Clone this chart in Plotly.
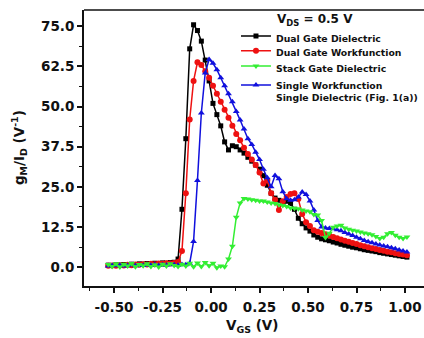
import plotly.graph_objects as go

# Gate-voltage sweep points (V)
vgs = [-0.53, -0.51, -0.49, -0.47, -0.45, -0.43, -0.41, -0.39, -0.37, -0.35,
       -0.33, -0.31, -0.29, -0.27, -0.25, -0.23, -0.21, -0.19, -0.17, -0.15,
       -0.13, -0.11, -0.09, -0.07, -0.05, -0.03, -0.01, 0.01, 0.03, 0.05,
       0.07, 0.09, 0.11, 0.13, 0.15, 0.17, 0.19, 0.21, 0.23, 0.25,
       0.27, 0.29, 0.31, 0.33, 0.35, 0.37, 0.39, 0.41, 0.43, 0.45,
       0.47, 0.49, 0.51, 0.53, 0.55, 0.57, 0.59, 0.61, 0.63, 0.65,
       0.67, 0.69, 0.71, 0.73, 0.75, 0.77, 0.79, 0.81, 0.83, 0.85,
       0.87, 0.89, 0.91, 0.93, 0.95, 0.97, 0.99, 1.01]

# gm/Id (1/V) for each device variant
dual_gate_dielectric = [
    0.6, 0.5, 0.7, 0.6, 0.8, 0.7, 0.9, 0.8, 1.0, 0.9,
    1.1, 1.0, 1.2, 1.1, 1.3, 1.2, 1.4, 1.5, 2.5, 18.0,
    40.0, 68.0, 75.5, 73.7, 70.4, 64.5, 58.0, 51.0, 47.5, 44.0,
    39.0, 36.5, 37.8, 37.5, 36.5, 35.5, 34.2, 33.0, 31.8, 30.5,
    28.5, 25.5, 23.0, 21.5, 20.8, 20.2, 20.5, 19.8, 18.0, 15.2,
    13.5, 12.2, 11.2, 10.0, 9.3, 8.8, 8.5, 8.2, 7.8, 7.5,
    7.1, 6.8, 6.5, 6.2, 6.0, 5.7, 5.4, 5.2, 5.0, 4.8,
    4.5, 4.3, 4.1, 3.9, 3.7, 3.5, 3.3, 3.1]

dual_gate_workfunction = [
    0.4, 0.5, 0.4, 0.6, 0.5, 0.7, 0.6, 0.8, 0.7, 0.9,
    0.8, 1.0, 0.9, 1.1, 1.0, 1.2, 1.1, 1.3, 1.6, 5.0,
    23.0, 46.0, 58.0, 63.8, 63.0, 61.0, 59.0, 56.5, 54.0, 51.5,
    49.0, 46.5, 44.0, 41.5, 39.5, 37.2, 35.2, 33.5, 31.8, 29.5,
    26.0, 27.0, 23.0, 21.0, 17.8, 20.5, 21.8, 22.8, 23.0, 21.2,
    16.5, 14.0, 12.8, 11.5, 11.0, 10.6, 10.2, 9.8, 9.4, 9.0,
    8.6, 8.2, 7.9, 7.5, 7.2, 6.8, 6.5, 6.2, 5.9, 5.6,
    5.3, 5.1, 4.8, 4.6, 4.3, 4.1, 3.9, 3.7]

stack_gate_dielectric = [
    0.8, 0.2, 1.0, 0.0, 0.9, 0.3, 1.1, 0.1, 0.8, 0.4,
    1.0, 0.2, 0.7, 0.0, 0.9, 0.3, 1.0, 0.5, 0.2, 0.9,
    0.3, 1.2, 0.1, 1.3, 0.2, 1.4, 0.4, 1.2, -0.2, 0.3,
    0.1, 2.5, 6.5, 15.5, 20.0, 21.4, 21.2, 21.0, 20.8, 20.6,
    20.6, 20.3, 20.0, 19.8, 19.4, 19.2, 18.9, 18.4, 18.3, 18.2,
    17.8, 17.5, 17.2, 16.4, 16.2, 14.5, 9.2, 10.5, 12.4, 12.8,
    13.0, 12.2, 11.8, 11.5, 11.2, 10.9, 10.6, 10.4, 10.1, 9.5,
    8.9, 9.3, 10.4, 10.8, 9.9, 9.3, 8.9, 9.4]

single_wf_single_diel = [
    0.3, 0.5, 0.4, 0.6, 0.3, 0.5, 0.7, 0.4, 0.6, 0.5,
    0.7, 0.6, 0.8, 0.5, 0.7, 0.6, 0.8, 0.7, 0.6, 0.8,
    0.7, 1.2, 8.0, 27.0, 48.0, 60.5, 64.7, 63.5, 61.5, 59.0,
    56.5, 54.0, 51.5, 48.5, 45.8, 43.0, 40.0, 38.2, 35.8, 33.5,
    30.5, 27.8, 25.0, 28.5, 27.5, 23.5, 21.3, 20.8, 21.0, 21.8,
    23.4, 22.6, 20.6, 17.8, 14.5, 12.5, 12.2, 12.0, 11.9, 11.6,
    11.3, 10.8, 10.3, 9.8, 9.3, 8.8, 8.3, 7.9, 7.6, 7.2,
    6.9, 6.6, 6.3, 6.0, 5.7, 5.3, 5.0, 4.7]

x_ticks = [-0.50, -0.25, 0.00, 0.25, 0.50, 0.75, 1.00]
x_tick_text = ["-0.50", "-0.25", "0.00", "0.25", "0.50", "0.75", "1.00"]
y_ticks = [0.0, 12.5, 25.0, 37.5, 50.0, 62.5, 75.0]
y_tick_text = ["0.0", "12.5", "25.0", "37.5", "50.0", "62.5", "75.0"]

FONT = "DejaVu Sans"
INK = "#111111"

# (name, values, colour, marker symbol, marker size, legend id, legend centre y in paper units)
# drawn in list order; each curve gets its own one-entry legend so the rows sit tightly
series = [
    ("Dual Gate Dielectric", dual_gate_dielectric, "#000000", "square", 5,
     "legend", 0.899),
    ("Dual Gate Workfunction", dual_gate_workfunction, "#ee1111", "circle", 6,
     "legend2", 0.845),
    ("Single Workfunction<br>Single Dielectric (Fig. 1(a))", single_wf_single_diel,
     "#1010dd", "triangle-up", 6, "legend4", 0.705),
    ("Stack Gate Dielectric", stack_gate_dielectric, "#33ee33", "triangle-down", 6,
     "legend3", 0.790),
]

fig = go.Figure()
for name, vals, color, sym, size, leg, _ in series:
    fig.add_trace(go.Scatter(
        x=vgs, y=vals, name=name, mode="lines+markers",
        line=dict(color=color, width=1.5),
        marker=dict(symbol=sym, size=size, color=color, line=dict(width=0)),
        legend=leg,
    ))

tick_font = dict(family=FONT, size=13.5, color=INK, weight="bold")

fig.update_xaxes(
    range=[-0.655, 1.098], tickmode="array", tickvals=x_ticks, ticktext=x_tick_text,
    tickangle=0, automargin=False, ticklabelstandoff=3,
    showline=True, linecolor=INK, linewidth=1.8,
    showgrid=False, zeroline=False,
    ticks="outside", ticklen=5, tickwidth=1.5, tickcolor=INK,
    tickfont=tick_font,
    minor=dict(dtick=0.125, ticks="outside", ticklen=3, tickwidth=1.2, tickcolor=INK),
)
fig.update_yaxes(
    range=[-5.9, 80.1], tickmode="array", tickvals=y_ticks, ticktext=y_tick_text,
    automargin=False,
    showline=True, linecolor=INK, linewidth=1.8,
    showgrid=False, zeroline=False,
    ticks="outside", ticklen=5, tickwidth=1.5, tickcolor=INK,
    tickfont=tick_font,
    minor=dict(dtick=6.25, ticks="outside", ticklen=3, tickwidth=1.2, tickcolor=INK),
)

title_font = dict(family=FONT, size=13.5, color=INK, weight="bold")
legend_font = dict(family=FONT, size=9.3, color=INK, weight="bold")

legends = {}
for _, _, _, _, _, leg, ypos in series:
    legends[leg] = dict(
        x=0.447, y=ypos, xanchor="left", yanchor="middle",
        bgcolor="rgba(0,0,0,0)", borderwidth=0, font=legend_font,
        valign="top", itemwidth=30,
    )

fig.update_layout(
    width=424, height=338,
    margin=dict(l=84, r=0, t=10, b=52, autoexpand=False),
    paper_bgcolor="white", plot_bgcolor="white",
    showlegend=True,
    shapes=[dict(type="line", xref="paper", yref="paper", x0=0, x1=1, y0=1, y1=1,
                 line=dict(color=INK, width=1.5))],
    annotations=[
        dict(text="g<sub>M</sub>/I<sub>D</sub> (V<sup>-1</sup>)", textangle=-90,
             xref="paper", yref="paper", x=-0.191, y=0.5,
             xanchor="center", yanchor="middle", showarrow=False, font=title_font),
        dict(text="V<sub>GS</sub> (V)", xref="paper", yref="paper",
             x=0.497, y=-0.145, xanchor="center", yanchor="middle",
             showarrow=False, font=title_font),
        dict(text="V<sub>DS</sub> = 0.5 V", xref="paper", yref="paper",
             x=0.562, y=0.962, xanchor="left", yanchor="middle", showarrow=False,
             font=dict(family=FONT, size=12, color=INK, weight="bold")),
    ],
    **legends,
)

fig.write_html("out.html")
